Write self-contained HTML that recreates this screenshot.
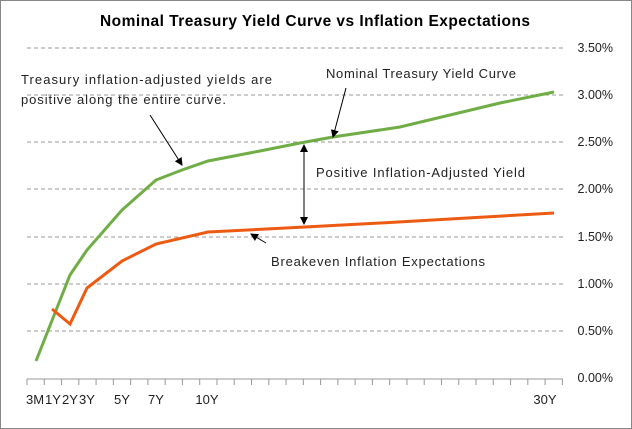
<!DOCTYPE html><html><head><style>body{margin:0}svg{display:block}text{font-family:"Liberation Sans",sans-serif}</style></head><body>
<svg width="632" height="429" xmlns="http://www.w3.org/2000/svg">
<defs><marker id="a" markerWidth="8" markerHeight="8" refX="7" refY="4" orient="auto" markerUnits="userSpaceOnUse"><path d="M0,0L8,4L0,8z" fill="#000"/></marker>
<marker id="b" markerWidth="8" markerHeight="8" refX="1" refY="4" orient="auto" markerUnits="userSpaceOnUse"><path d="M8,0L0,4L8,8z" fill="#000"/></marker></defs>
<rect x="0.5" y="0.5" width="631" height="428" fill="#fff" stroke="#888"/>
<text x="315" y="26" font-size="15.5" font-weight="bold" text-anchor="middle" textLength="430">Nominal Treasury Yield Curve  vs Inflation Expectations</text>
<g stroke="#999" stroke-dasharray="4,3" stroke-width="1">
<line x1="27" x2="563" y1="48" y2="48"/><line x1="27" x2="563" y1="95" y2="95"/><line x1="27" x2="563" y1="142" y2="142"/><line x1="27" x2="563" y1="189" y2="189"/><line x1="27" x2="563" y1="237" y2="237"/><line x1="27" x2="563" y1="284" y2="284"/><line x1="27" x2="563" y1="331" y2="331"/></g>
<line x1="27" x2="563" y1="379" y2="379" stroke="#999"/>
<g stroke="#999" id="t"></g>
<g font-size="12.5" fill="#222" text-anchor="end">
<text x="613" y="52">3.50%</text><text x="613" y="99">3.00%</text><text x="613" y="146">2.50%</text><text x="613" y="193">2.00%</text><text x="613" y="241">1.50%</text><text x="613" y="288">1.00%</text><text x="613" y="335">0.50%</text><text x="613" y="382">0.00%</text></g>
<g font-size="13" fill="#222" text-anchor="middle">
<text x="35" y="404">3M</text><text x="53" y="404">1Y</text><text x="70" y="404">2Y</text><text x="87" y="404">3Y</text><text x="122" y="404">5Y</text><text x="156" y="404">7Y</text><text x="207" y="404">10Y</text><text x="545" y="404">30Y</text></g>
<polyline fill="none" stroke="#70AD47" stroke-width="3" points="36,361 53,318 70,275 87,250 122,210 156,180 182,170 208,161 260,151 300,143 333,137 400,127 450,115 500,103 554,92"/>
<polyline fill="none" stroke="#ED5A12" stroke-width="3" points="52,309 70,324 87,288 122,261 156,244 208,232 305,227 380,223 450,219 554,213"/>
<g stroke="#000" stroke-width="1">
<line x1="150" y1="115" x2="182" y2="165" marker-end="url(#a)"/>
<line x1="346" y1="88" x2="333" y2="137" marker-end="url(#a)"/>
<line x1="304" y1="145" x2="304" y2="224" marker-start="url(#b)" marker-end="url(#a)"/>
<line x1="266" y1="243" x2="251" y2="234" marker-end="url(#a)"/></g>
<g font-size="13" fill="#222">
<text x="21" y="84" textLength="251">Treasury inflation-adjusted  yields are</text>
<text x="21" y="104" textLength="205">positive along the entire curve.</text>
<text x="326" y="78" textLength="190">Nominal Treasury Yield Curve</text>
<text x="316" y="177" textLength="209">Positive Inflation-Adjusted Yield</text>
<text x="271" y="266" textLength="214">Breakeven Inflation Expectations</text></g>
</svg>
<script>var g=document.getElementById('t');for(var i=0;i<=31;i++){var x=27+i*17.27;var l=document.createElementNS('http://www.w3.org/2000/svg','line');l.setAttribute('x1',x);l.setAttribute('x2',x);l.setAttribute('y1',379);l.setAttribute('y2',385);g.appendChild(l);}</script>
</body></html>
